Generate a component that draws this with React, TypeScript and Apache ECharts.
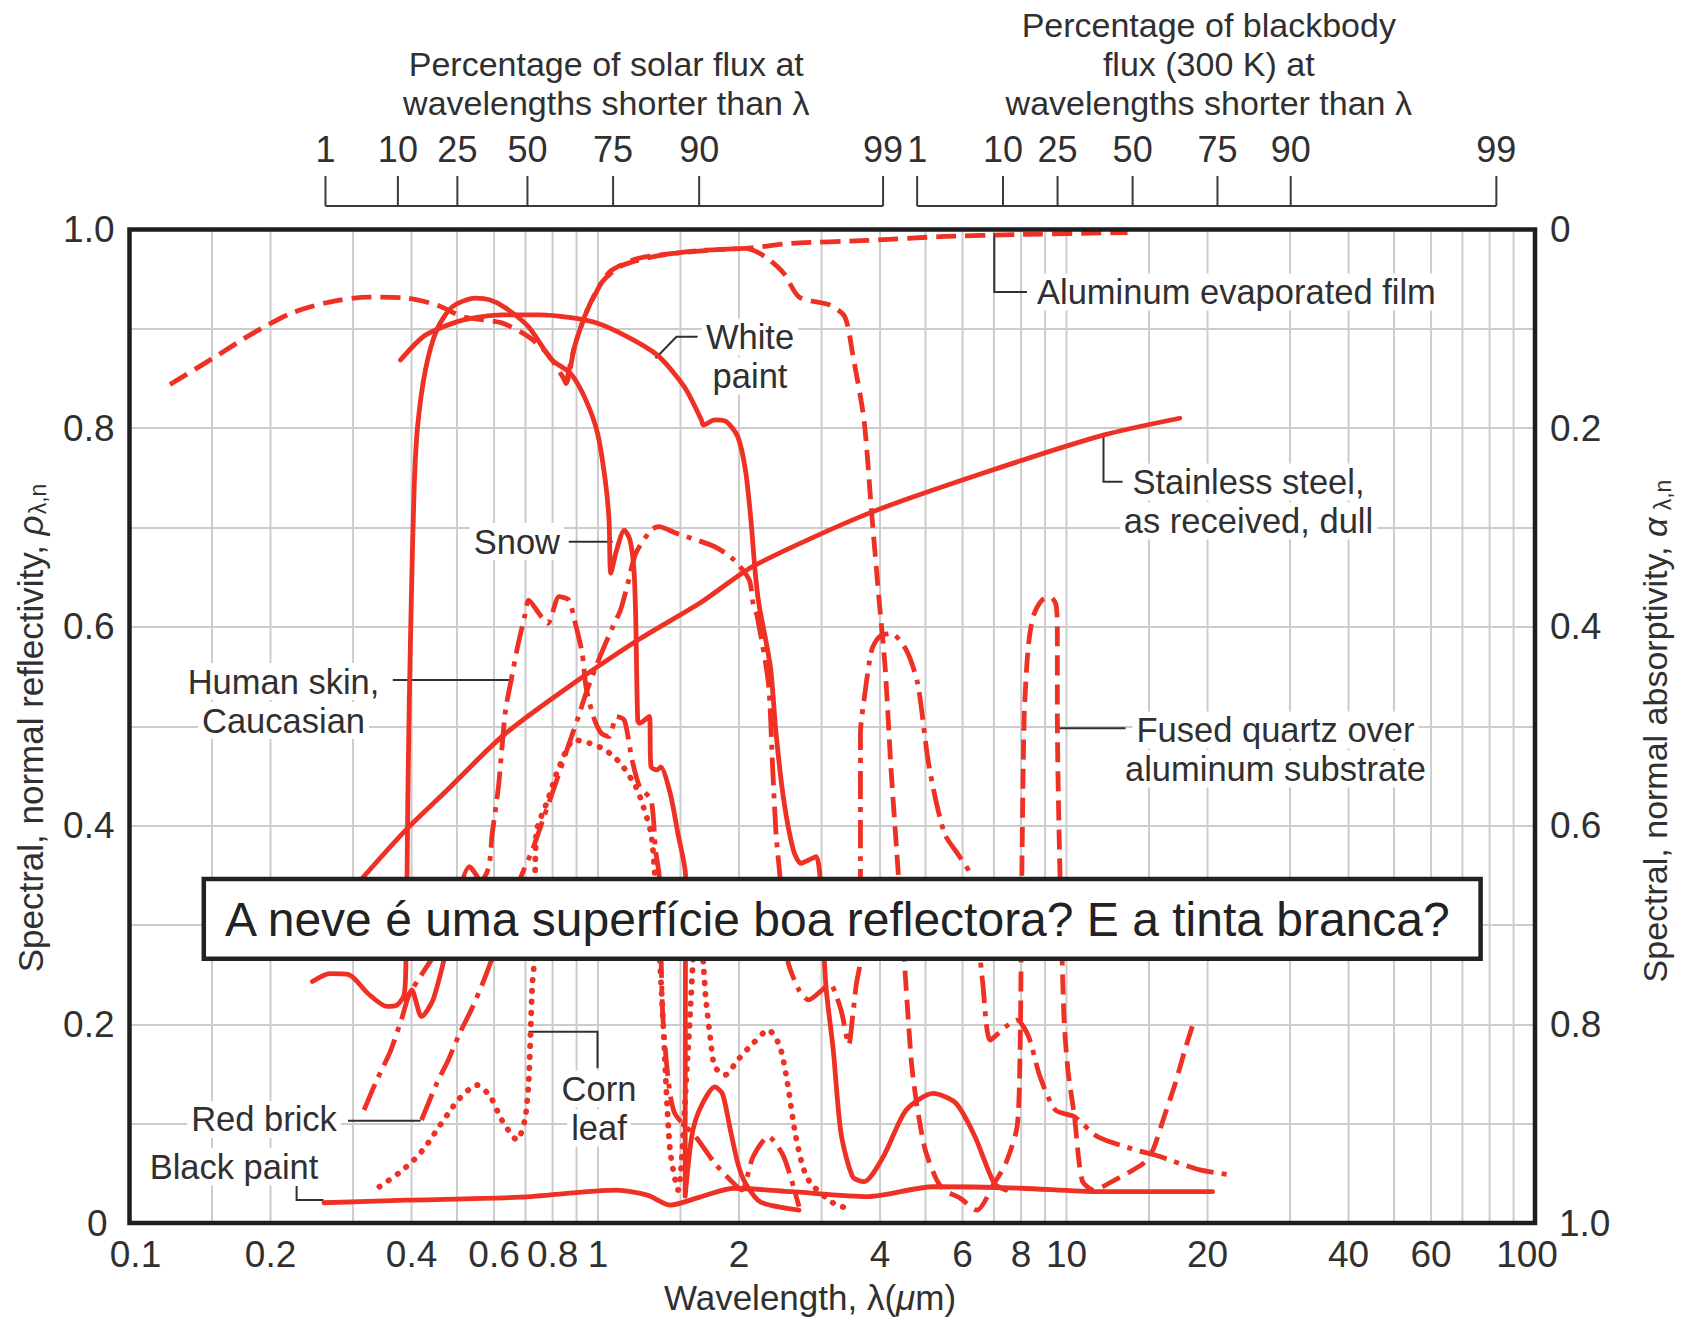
import React, { useEffect, useRef } from 'react';
import * as echarts from 'echarts';

type Pt = [number, number];

const RED = '#ee3124';
const INK = '#303030';
const GRID = '#cccccc';
const FONT = "'Liberation Sans', Arial, Helvetica, sans-serif";

// ---- axis data ----
const wavelengthLabels = [0.1, 0.2, 0.4, 0.6, 0.8, 1, 2, 4, 6, 8, 10, 20, 40, 60, 100];
const wavelengthGrid = [0.15, 0.2, 0.3, 0.4, 0.5, 0.6, 0.7, 0.8, 0.9, 1, 1.5, 2, 3, 4, 5, 6, 7, 8, 9, 10, 15, 20, 30, 40, 50, 60, 70, 80, 90];
const percentLabels = ['1', '10', '25', '50', '75', '90', '99'];
const solarPercentLambda = [0.262, 0.374, 0.501, 0.707, 1.077, 1.644, 4.06];
const blackbodyPercentLambda = [4.8, 7.32, 9.57, 13.84, 21.0, 30.1, 82.7];

// ---- curves: [wavelength (um), spectral normal reflectivity] ----
const aluminumFilm: Pt[] = [
  [0.122, 0.844], [0.149, 0.869], [0.184, 0.896], [0.222, 0.916], [0.267, 0.927], [0.323, 0.932],
  [0.39, 0.931], [0.453, 0.924], [0.517, 0.912], [0.623, 0.906], [0.711, 0.892], [0.78, 0.875],
  [0.84, 0.852], [0.855, 0.845], [0.891, 0.882], [0.943, 0.916], [1.016, 0.946], [1.117, 0.963],
  [1.322, 0.973], [1.651, 0.979], [2.064, 0.981], [2.587, 0.986], [3.768, 0.989], [5.489, 0.993],
  [8.0, 0.995], [13.5, 0.997],
];

const fusedQuartz: Pt[] = [
  [0.855, 0.845], [0.891, 0.882], [0.943, 0.916], [1.016, 0.946], [1.069, 0.959], [1.219, 0.971],
  [1.616, 0.978], [2.064, 0.981], [2.268, 0.973], [2.491, 0.956], [2.686, 0.932], [3.122, 0.924],
  [3.365, 0.912], [3.495, 0.875], [3.697, 0.808], [3.839, 0.714], [3.986, 0.624], [4.1, 0.56],
  [4.219, 0.459], [4.34, 0.375], [4.505, 0.265], [4.59, 0.208], [4.677, 0.157], [4.81, 0.114],
  [4.995, 0.0735], [5.287, 0.043], [5.489, 0.033], [5.926, 0.025], [6.442, 0.013], [7.01, 0.04],
  [7.418, 0.06], [7.845, 0.097], [7.96, 0.174], [8.0, 0.265], [8.04, 0.375], [8.123, 0.51],
  [8.276, 0.577], [8.482, 0.61], [8.866, 0.627], [9.254, 0.63], [9.498, 0.622], [9.56, 0.597],
  [9.56, 0.51], [9.66, 0.375], [9.874, 0.208], [10.07, 0.154], [10.4, 0.107], [10.8, 0.043],
  [11.43, 0.033], [12.32, 0.04], [14.59, 0.06], [15.29, 0.0735], [16.16, 0.107], [17.08, 0.141],
  [17.89, 0.174], [18.56, 0.198],
];

const snow: Pt[] = [
  [0.2457, 0.243], [0.2674, 0.251], [0.2938, 0.25], [0.3228, 0.231], [0.3545, 0.218], [0.3716, 0.219],
  [0.3858, 0.23], [0.3894, 0.275], [0.3927, 0.426], [0.3956, 0.526], [0.3995, 0.627], [0.4052, 0.741],
  [0.412, 0.8015], [0.4282, 0.8586], [0.4528, 0.899], [0.488, 0.922], [0.5463, 0.931], [0.589, 0.929],
  [0.6353, 0.921], [0.711, 0.902], [0.7961, 0.869], [0.8744, 0.855], [0.9427, 0.828], [0.9975, 0.795],
  [1.036, 0.748], [1.0556, 0.708], [1.0652, 0.654], [1.0953, 0.677], [1.138, 0.6975], [1.1704, 0.6875],
  [1.1935, 0.657], [1.204, 0.607], [1.2154, 0.506], [1.227, 0.503], [1.2858, 0.51], [1.2978, 0.459],
  [1.336, 0.456], [1.361, 0.459], [1.426, 0.4325], [1.481, 0.392], [1.538, 0.349], [1.535, 0.1],
  [1.535, 0.027], [1.585, 0.087], [1.647, 0.114], [1.775, 0.137], [1.844, 0.13], [1.916, 0.094],
  [1.988, 0.06], [2.064, 0.04], [2.225, 0.021], [2.686, 0.013],
];

const snowUltraviolet: Pt[] = [
  [0.3896, 0.2245], [0.4003, 0.2345], [0.4201, 0.2077], [0.4444, 0.2245], [0.4745, 0.2748],
  [0.5025, 0.33], [0.5312, 0.3587], [0.5572, 0.3452], [0.5738, 0.3251],
];

const whitePaint: Pt[] = [
  [0.3787, 0.8686], [0.4282, 0.8937], [0.5166, 0.909], [0.6233, 0.914], [0.7524, 0.914], [0.9975, 0.9056],
  [1.3235, 0.8754], [1.5275, 0.8418], [1.6624, 0.8083], [1.678, 0.8032], [1.7754, 0.8083], [1.8788, 0.8066],
  [1.988, 0.7914], [2.0637, 0.758], [2.1204, 0.7076], [2.1633, 0.6573], [2.2042, 0.6238], [2.333, 0.56],
  [2.3987, 0.4929], [2.4912, 0.4258], [2.612, 0.3754], [2.7108, 0.362], [2.8153, 0.3654], [2.922, 0.3687],
  [2.9777, 0.3486], [3.064, 0.2396], [3.178, 0.1742], [3.301, 0.0906], [3.4954, 0.0466], [3.697, 0.0416],
  [4.063, 0.0667], [4.548, 0.1137], [5.192, 0.1305], [5.808, 0.1205], [6.379, 0.0869], [7.009, 0.04],
  [7.418, 0.0332],
];

const stainlessSteel: Pt[] = [
  [0.3, 0.335], [0.3166, 0.349], [0.3897, 0.396], [0.47, 0.433], [0.6233, 0.4895], [0.8264, 0.533],
  [1.219, 0.587], [1.651, 0.624], [2.142, 0.661], [3.768, 0.714], [6.623, 0.7546], [11.98, 0.793],
  [17.45, 0.81],
];

const humanSkin: Pt[] = [
  [0.3167, 0.1137], [0.335, 0.1409], [0.3613, 0.1741], [0.3822, 0.2077], [0.397, 0.2315], [0.5781, 0.352],
  [0.5947, 0.3925], [0.6132, 0.4394], [0.6234, 0.4771], [0.6353, 0.5174], [0.6534, 0.5476], [0.6719, 0.5778],
  [0.6979, 0.6113], [0.711, 0.627], [0.752, 0.612], [0.7814, 0.6036], [0.8264, 0.6304], [0.8663, 0.627],
  [0.8908, 0.607], [0.9253, 0.5734], [0.9427, 0.5398], [0.9778, 0.5096], [1.0164, 0.4929], [1.0556, 0.4895],
  [1.0953, 0.5096], [1.138, 0.5063], [1.1825, 0.466], [1.227, 0.4392], [1.2978, 0.4258], [1.3268, 0.3754],
  [1.3516, 0.3486], [1.364, 0.265], [1.3753, 0.2077], [1.4154, 0.1406], [1.46, 0.11], [1.6163, 0.0869],
  [1.7754, 0.0601], [1.9157, 0.0433], [2.0257, 0.0332], [2.143, 0.0667], [2.3106, 0.0869], [2.4912, 0.0667],
  [2.6857, 0.0164],
];

const redBrick: Pt[] = [
  [0.4201, 0.1037], [0.4528, 0.1406], [0.4792, 0.1641], [0.5067, 0.1909], [0.5362, 0.2144], [0.5674, 0.2413],
  [0.589, 0.2614], [0.685, 0.3486], [0.7243, 0.3754], [0.767, 0.409], [0.8122, 0.4426], [0.8582, 0.4761],
  [0.9081, 0.5096], [0.9427, 0.5332], [0.9778, 0.5533], [1.0164, 0.5734], [1.0755, 0.6002], [1.1168, 0.617],
  [1.1589, 0.6442], [1.204, 0.6741], [1.2978, 0.6975], [1.3476, 0.7009], [1.4702, 0.6942], [1.7754, 0.6807],
  [1.9513, 0.6674], [2.1035, 0.6472], [2.143, 0.6238], [2.1871, 0.6103], [2.3106, 0.5432], [2.3585, 0.4593],
  [2.3987, 0.3922], [2.4462, 0.3486], [2.538, 0.265], [2.6857, 0.2345], [2.8153, 0.2245], [3.0075, 0.2345],
  [3.1218, 0.2413], [3.3012, 0.2144], [3.4305, 0.1795], [3.4954, 0.2077], [3.5612, 0.2413], [3.6323, 0.265],
  [3.6323, 0.3486], [3.6323, 0.4929], [3.697, 0.5264], [3.839, 0.5768], [3.986, 0.5901], [4.219, 0.5936],
  [4.548, 0.5768], [4.811, 0.5432], [5.09, 0.4593], [5.489, 0.3922], [5.917, 0.3687], [6.261, 0.3486],
  [6.626, 0.2413], [6.877, 0.1842], [7.418, 0.1976], [7.845, 0.2043], [8.302, 0.1875], [8.78, 0.1473],
  [9.47, 0.1137], [10.4, 0.107], [11.65, 0.0869], [14.06, 0.0735], [15.46, 0.0684], [19.28, 0.0534],
  [22.54, 0.0483],
];

const cornLeaf: Pt[] = [
  [0.3415, 0.0365], [0.3751, 0.05], [0.4045, 0.0634], [0.4282, 0.0768], [0.4528, 0.0936], [0.4792, 0.1104],
  [0.5067, 0.1255], [0.5517, 0.1389], [0.589, 0.1272], [0.6233, 0.1037], [0.6719, 0.0836], [0.6979, 0.1037],
  [0.711, 0.1406], [0.7178, 0.191], [0.7243, 0.2413], [0.7315, 0.265], [0.7383, 0.3922], [0.7815, 0.4258],
  [0.8264, 0.4593], [0.8908, 0.4862], [0.9613, 0.4828], [1.036, 0.4761], [1.1168, 0.4627], [1.204, 0.4392],
  [1.2498, 0.419], [1.2978, 0.3922], [1.3235, 0.3486], [1.3697, 0.2245], [1.4247, 0.0735], [1.4815, 0.0332],
  [1.5562, 0.1741], [1.6347, 0.3251], [1.678, 0.2614], [1.7, 0.2245], [1.7423, 0.1809], [1.7754, 0.1573],
  [1.8668, 0.149], [1.988, 0.1641], [2.143, 0.1809], [2.3106, 0.1943], [2.445, 0.1775], [2.538, 0.1406],
  [2.6356, 0.0903], [2.7369, 0.0567], [2.844, 0.04], [3.178, 0.0201], [3.4954, 0.0131],
];

const blackPaint: Pt[] = [
  [0.26, 0.0204], [0.39, 0.023], [0.685, 0.026], [1.096, 0.033], [1.274, 0.028], [1.428, 0.018],
  [1.648, 0.026], [1.951, 0.035], [2.587, 0.0315], [3.77, 0.0265], [5.19, 0.0365], [8.0, 0.035],
  [11.65, 0.0315], [20.5, 0.0315],
];

const DASH = [20, 9];
const DASH_DOT = [28, 8, 5, 8];
const DOT = [0.5, 10.5];

const curves = [
  { name: 'Aluminum evaporated film', data: aluminumFilm, type: DASH, cap: 'butt' },
  { name: 'Fused quartz over aluminum substrate', data: fusedQuartz, type: DASH, cap: 'butt' },
  { name: 'Snow', data: snow, type: 'solid', cap: 'round' },
  { name: 'Snow UV', data: snowUltraviolet, type: 'solid', cap: 'round' },
  { name: 'White paint', data: whitePaint, type: 'solid', cap: 'round' },
  { name: 'Stainless steel, as received, dull', data: stainlessSteel, type: 'solid', cap: 'round' },
  { name: 'Human skin, Caucasian', data: humanSkin, type: DASH_DOT, cap: 'butt' },
  { name: 'Red brick', data: redBrick, type: DASH_DOT, cap: 'butt' },
  { name: 'Corn leaf', data: cornLeaf, type: DOT, cap: 'round' },
  { name: 'Black paint', data: blackPaint, type: 'solid', cap: 'round' },
];

const tickText = (v: number) => {
  const t = Math.round(v * 10);
  if (t % 2 !== 0) return '';
  return t === 0 ? '0' : (t / 10).toFixed(1);
};
// the corner labels are nudged away from the wavelength labels below them
const leftLabel = (v: number) => (Math.round(v * 10) === 0 ? '{c|0}' : tickText(v));
const rightLabel = (v: number) => (Math.round(v * 10) === 10 ? '{c|1.0}' : tickText(v));

export default function App() {
  const ref = useRef<HTMLDivElement>(null);

  useEffect(() => {
    document.body.style.margin = '0';
    const chart = echarts.init(ref.current as HTMLDivElement, undefined, { renderer: 'svg' });

    const series = curves.map((c) => ({
      name: c.name,
      type: 'line',
      data: c.data,
      showSymbol: false,
      symbol: 'none',
      smooth: 0.25,
      silent: true,
      z: 2,
      lineStyle: { color: RED, width: c.type === DOT ? 5.8 : 4.8, type: c.type, cap: c.cap, join: 'round' },
    }));

    const labelStyle = { fontSize: 37, color: INK, fontFamily: FONT, margin: 15 };
    const cornerRich = (pad: number[]) => ({ c: { fontSize: 37, color: INK, fontFamily: FONT, padding: pad } });

    chart.setOption({
      animation: false,
      backgroundColor: '#ffffff',
      grid: { left: 129.5, right: 156, top: 229.5, bottom: 95, containLabel: false },
      xAxis: {
        type: 'log', logBase: 10, min: 0.1, max: 100,
        axisLine: { show: false }, axisTick: { show: false }, axisLabel: { show: false }, splitLine: { show: false },
      },
      yAxis: [
        {
          type: 'value', min: 0, max: 1, interval: 0.1, position: 'left',
          axisLine: { show: false }, axisTick: { show: false },
          axisLabel: { ...labelStyle, formatter: leftLabel, rich: cornerRich([0, 7, 0, 0]) },
          splitLine: { show: true, lineStyle: { color: GRID, width: 2 } },
        },
        {
          type: 'value', min: 0, max: 1, interval: 0.1, position: 'right', inverse: true,
          axisLine: { show: false }, axisTick: { show: false },
          axisLabel: { ...labelStyle, formatter: rightLabel, rich: cornerRich([0, 0, 0, 9]) },
          splitLine: { show: false },
        },
      ],
      series,
    });

    const X = (l: number) => chart.convertToPixel({ xAxisIndex: 0 }, l) as number;
    const Y = (r: number) => chart.convertToPixel({ yAxisIndex: 0 }, r) as number;
    const x0 = X(0.1), x1 = X(100), yTop = Y(1), yBot = Y(0);

    const els: any[] = [];
    const text = (t: string, x: number, y: number, opts: any = {}) => {
      els.push({
        type: 'text', x, y, z: opts.z ?? 3, silent: true, rotation: opts.rotation ?? 0,
        style: {
          text: t, fill: opts.fill ?? INK, fontSize: opts.fontSize ?? 34, fontFamily: FONT,
          align: opts.align ?? 'center', verticalAlign: 'middle',
          ...(opts.bg ? { backgroundColor: '#ffffff', padding: [1, 4] } : {}),
          ...(opts.rich ? { rich: opts.rich } : {}),
        },
      });
    };
    const poly = (pts: number[][], z = 1.5, color = INK, w = 2) => {
      els.push({ type: 'polyline', z, silent: true, shape: { points: pts }, style: { stroke: color, lineWidth: w, fill: null } });
    };

    // vertical grid lines
    wavelengthGrid.forEach((v) => {
      els.push({ type: 'line', z: 0, silent: true, shape: { x1: X(v), y1: yTop, x2: X(v), y2: yBot }, style: { stroke: GRID, lineWidth: 2 } });
    });

    // plot frame
    els.push({ type: 'rect', z: 3, silent: true, shape: { x: x0, y: yTop, width: x1 - x0, height: yBot - yTop }, style: { fill: null, stroke: '#1e1e1e', lineWidth: 4.5 } });

    // bottom tick labels (end labels nudged inwards, as in the original)
    wavelengthLabels.forEach((v, i) => {
      const dx = i === 0 ? 6 : i === wavelengthLabels.length - 1 ? -8 : 0;
      text(String(v), X(v) + dx, 1254, { fontSize: 37 });
    });

    // axis titles
    const part = (size: number, italic = false) => ({ fontSize: size, fontFamily: FONT, fill: INK, fontStyle: italic ? 'italic' : 'normal' });
    text('{a|Wavelength, λ(}{i|μ}{a|m)}', 810, 1297, { rich: { a: part(35), i: part(35, true) } });
    text('{a|Spectral, normal reflectivity, }{g|ρ}{s|λ,n}', 30, 728, {
      rotation: Math.PI / 2,
      rich: { a: part(35), g: part(35, true), s: { ...part(23), padding: [15, 0, 0, 1] } },
    });
    text('{a|Spectral, normal absorptivity, }{g|α}{s| λ,n}', 1655, 731, {
      rotation: Math.PI / 2,
      rich: { a: part(34), g: part(34, true), s: { ...part(23), padding: [15, 0, 0, 1] } },
    });

    // top percentage scales
    const scale = (lams: number[], titles: string[]) => {
      const xs = lams.map(X);
      poly([[xs[0], 206], [xs[xs.length - 1], 206]], 3, '#3a3a3a', 2);
      xs.forEach((x, i) => {
        poly([[x, 176], [x, 206]], 3, '#3a3a3a', 2);
        text(percentLabels[i], x, 149, { fontSize: 36 });
      });
      const mid = (xs[0] + xs[xs.length - 1]) / 2;
      const n = titles.length;
      titles.forEach((t, i) => text(t, mid + 2, 103 - (n - 1 - i) * 39, { fontSize: 34 }));
    };
    scale(solarPercentLambda, ['Percentage of solar flux at', 'wavelengths shorter than λ']);
    scale(blackbodyPercentLambda, ['Percentage of blackbody', 'flux (300 K) at', 'wavelengths shorter than λ']);

    // annotations
    const note = (lines: string[], x: number, y: number, align = 'center') => {
      lines.forEach((l, i) => text(l, x, y + i * 39, { z: 1, bg: true, align, fontSize: 34.5 }));
    };
    poly([[994.3, 233], [994.3, 292], [1027, 292]]);
    note(['Aluminum evaporated film'], 1033, 292, 'left');
    poly([[655.5, 358.3], [676.5, 336.7], [697.6, 336.7]]);
    note(['White', 'paint'], 750, 337);
    poly([[568.8, 541.7], [612.8, 541.7]]);
    note(['Snow'], 564, 541.5, 'right');
    poly([[392.8, 680], [513.3, 680]]);
    note(['Human skin,', 'Caucasian'], 283.5, 681.5);
    poly([[1103.5, 434], [1103.5, 481.7], [1122.6, 481.7]]);
    note(['Stainless steel,', 'as received, dull'], 1248.5, 482);
    poly([[1055, 728.3], [1125.6, 728.3]]);
    note(['Fused quartz over', 'aluminum substrate'], 1275.5, 730);
    poly([[528.6, 1031.7], [597.5, 1031.7], [597.5, 1068]]);
    note(['Corn', 'leaf'], 599, 1089);
    poly([[348, 1120.7], [420.7, 1120.7]]);
    note(['Red brick'], 264, 1119.4);
    poly([[296.6, 1186], [296.6, 1200], [323.5, 1200]]);
    note(['Black paint'], 234, 1166.8);

    // question box
    els.push({ type: 'rect', z: 10, silent: true, shape: { x: 203.8, y: 878.9, width: 1276.8, height: 79.8 }, style: { fill: '#ffffff', stroke: '#222222', lineWidth: 4.5 } });
    text('A neve é uma superfície boa reflectora? E a tinta branca?', 225, 919, { z: 11, fontSize: 48, fill: '#222222', align: 'left' });

    chart.setOption({ graphic: { elements: els } });

    return () => chart.dispose();
  }, []);

  return <div ref={ref} style={{ position: 'absolute', left: 0, top: 0, width: 1691, height: 1318 }} />;
}
